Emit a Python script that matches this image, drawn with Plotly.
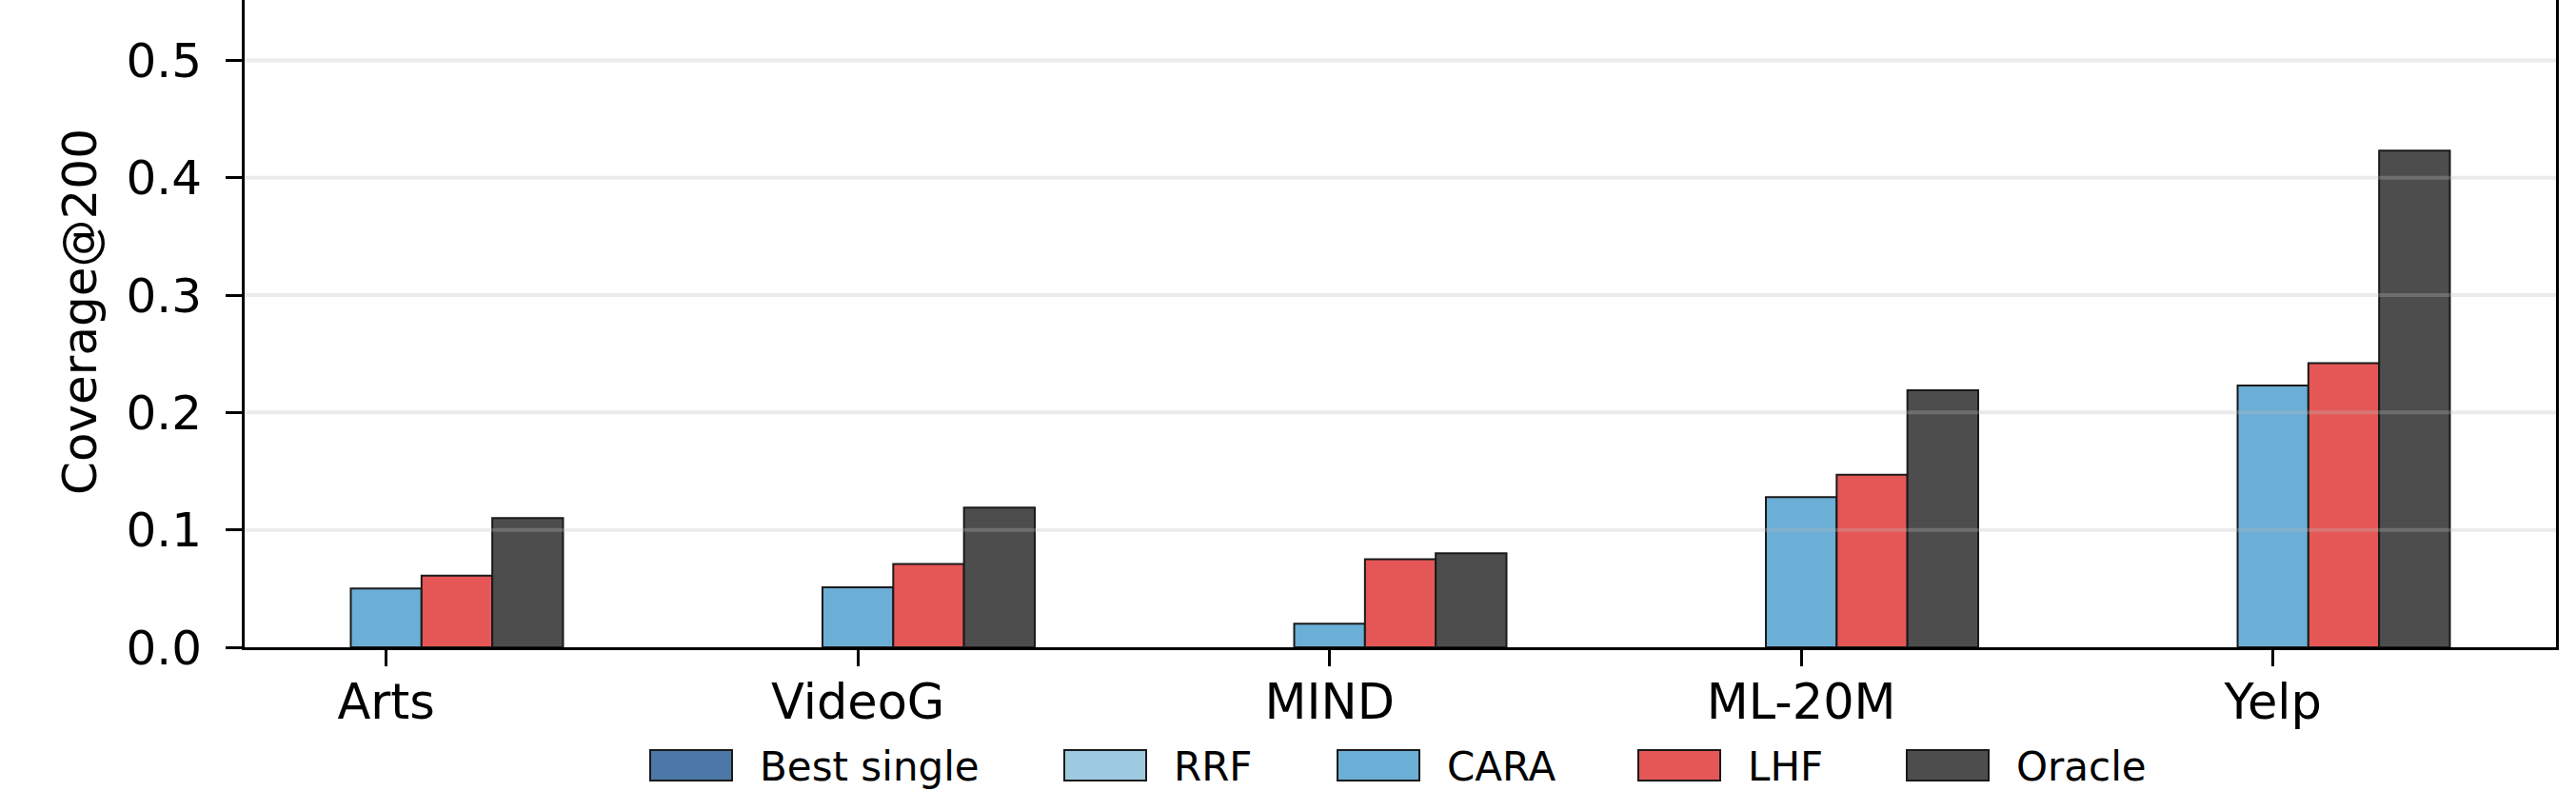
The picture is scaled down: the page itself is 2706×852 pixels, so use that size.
import plotly.graph_objects as go

# ---------------- data ----------------
categories = ["Arts", "VideoG", "MIND", "ML-20M", "Yelp"]
series_names = ["Best single", "RRF", "CARA", "LHF", "Oracle"]
best_single = [None, None, None, None, None]
rrf = [None, None, None, None, None]
cara = [0.050, 0.051, 0.020, 0.128, 0.223]
lhf = [0.061, 0.071, 0.075, 0.147, 0.242]
oracle = [0.110, 0.119, 0.080, 0.219, 0.423]
y_ticks = [0.0, 0.1, 0.2, 0.3, 0.4, 0.5]
y_title = "Coverage@200"

# ---------------- styles ----------------
colors = ["#4c78a8", "#9ecae1", "#6baed6", "#e45756", "#4d4d4d"]
FONT = "DejaVu Sans"
W, H = 2706, 852
L, R, T, B = 257, 2685, 0, 680


def px_x(p):
    return (p - L) / (R - L)


def px_y(p):
    return (B - p) / (B - T)


values = [best_single, rrf, cara, lhf, oracle]
fig = go.Figure()
for name, vals, col in zip(series_names, values, colors):
    fig.add_trace(go.Bar(x=categories, y=vals, name=name,
                         marker=dict(color=col, line=dict(color="#1a1a1a", width=2)),
                         showlegend=False))

shapes = []
# light gridlines drawn over the bars, as in the reference
for v in y_ticks[1:]:
    shapes.append(dict(type="line", xref="paper", yref="y", x0=0, x1=1, y0=v, y1=v,
                       line=dict(color="rgba(188,188,188,0.3)", width=4), layer="above"))

annotations = []
# legend row below the axis
legend_patch_x = [683, 1118, 1405, 1721, 2003]
leg_cy = 804
for name, col, lx in zip(series_names, colors, legend_patch_x):
    shapes.append(dict(type="rect", xref="paper", yref="paper",
                       x0=px_x(lx), x1=px_x(lx + 86),
                       y0=px_y(leg_cy + 16), y1=px_y(leg_cy - 16),
                       fillcolor=col, line=dict(color="#1a1a1a", width=2)))
    annotations.append(dict(xref="paper", yref="paper", x=px_x(lx + 113), y=px_y(leg_cy + 1),
                            text=name, showarrow=False, xanchor="left", yanchor="middle",
                            font=dict(family=FONT, size=42, color="black")))

annotations.append(dict(xref="paper", yref="paper", x=px_x(84), y=px_y(328),
                        text=y_title, textangle=-90, showarrow=False,
                        xanchor="center", yanchor="middle",
                        font=dict(family=FONT, size=50, color="black")))

fig.update_layout(
    width=W, height=H,
    margin=dict(l=L, r=W - R, t=T, b=H - B, autoexpand=False),
    paper_bgcolor="white", plot_bgcolor="white",
    barmode="group", bargap=0.25, bargroupgap=0.0,
    font=dict(family=FONT, size=50, color="black"),
    shapes=shapes, annotations=annotations, showlegend=False,
)
fig.update_xaxes(range=[-0.30, 4.60], showgrid=False, zeroline=False,
                 showline=True, linecolor="black", linewidth=3, mirror=False,
                 ticks="outside", ticklen=17, tickwidth=3, tickcolor="black",
                 tickfont=dict(family=FONT, size=51, color="black"),
                 ticklabelstandoff=-6, automargin=False)
fig.update_yaxes(range=[0, 0.5514], showgrid=False, zeroline=False,
                 showline=True, linecolor="black", linewidth=3, mirror=True,
                 ticks="outside", ticklen=17, tickwidth=3, tickcolor="black",
                 tickvals=y_ticks, ticktext=[f"{v:.1f}" for v in y_ticks],
                 tickfont=dict(family=FONT, size=50, color="black"),
                 ticklabelstandoff=15, automargin=False)

fig.write_html("out.html")
